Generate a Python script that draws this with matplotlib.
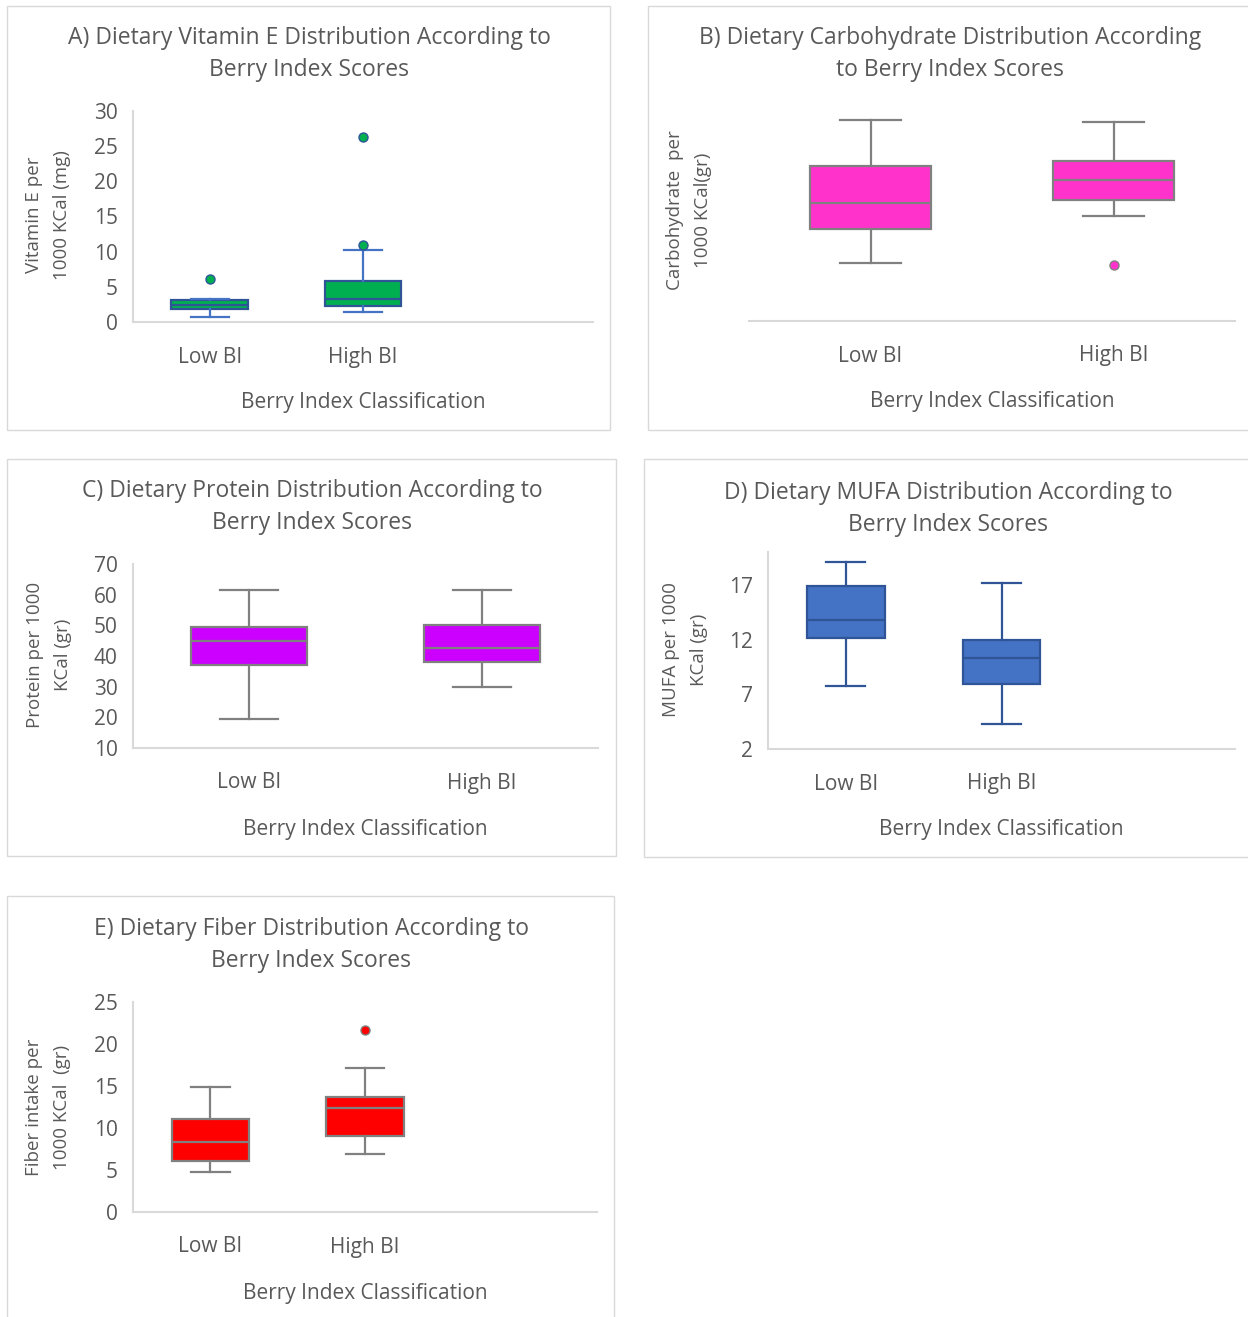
import matplotlib
matplotlib.use("Agg")
import matplotlib.pyplot as plt
from matplotlib.patches import Rectangle

# five-number summaries per group: [whisker low, Q1, median, Q3, whisker high]
groups = ["Low BI", "High BI"]

vite_low = [0.7, 1.8, 2.4, 3.1, 3.3]
vite_high = [1.4, 2.3, 3.2, 5.8, 10.3]
vite_out = [[6.1], [11.0, 26.3]]

carb_low = [90.0, 107.5, 121.0, 140.0, 163.8]
carb_high = [114.2, 122.5, 132.8, 142.6, 162.8]
carb_out = [[], [88.9]]

prot_low = [19.5, 37.2, 45.0, 49.6, 61.5]
prot_high = [30.0, 37.9, 42.6, 50.0, 61.5]
prot_out = [[], []]

mufa_low = [7.8, 12.1, 13.75, 16.85, 19.1]
mufa_high = [4.3, 7.9, 10.3, 12.0, 17.15]
mufa_out = [[], []]

fiber_low = [4.8, 6.1, 8.3, 11.1, 14.9]
fiber_high = [6.9, 9.0, 12.4, 13.7, 17.2]
fiber_out = [[], [21.7]]

W, H = 1248, 1317
TXT = "#595959"
AXC = "#D9D9D9"
FONT = "Open Sans"
FS = 15        # ticks, categories, axis title
FS_T = 16.5    # chart titles
FS_Y = 13.5    # rotated y labels

plt.rcParams["font.family"] = FONT

fig = plt.figure(figsize=(W / 100, H / 100), dpi=100)


def frame(x0, y0, x1, y1):
    fig.add_artist(Rectangle((x0 / W, 1 - y1 / H), (x1 - x0) / W, (y1 - y0) / H,
                             transform=fig.transFigure, fill=False,
                             edgecolor=AXC, lw=1.0))


def stats(summary, fliers, label):
    lo, q1, med, q3, hi = summary
    return dict(whislo=lo, q1=q1, med=med, q3=q3, whishi=hi,
                fliers=fliers, label=label)


def panel(box, low, high, out, ncat, ylim, yticks, fill, edge, whisk,
          title, ylabel, title_xy, ylabel_xy, cat_y, xlab_y, show_y=True):
    l, t, r, b = box
    ax = fig.add_axes([l / W, 1 - b / H, (r - l) / W, (b - t) / H])
    data = [stats(low, out[0], groups[0]), stats(high, out[1], groups[1])]
    ax.bxp(data, positions=[1, 2], widths=0.5, patch_artist=True,
           boxprops=dict(facecolor=fill, edgecolor=edge, lw=1.6),
           medianprops=dict(color=edge, lw=1.6),
           whiskerprops=dict(color=whisk, lw=1.6),
           capprops=dict(color=whisk, lw=1.6),
           flierprops=dict(marker="o", markerfacecolor=fill,
                           markeredgecolor=edge, markersize=6.5, lw=0))
    ax.set_xlim(0.5, ncat + 0.5)
    ax.set_ylim(*ylim)
    for s in ["top", "right"]:
        ax.spines[s].set_visible(False)
    ax.spines["bottom"].set_color(AXC)
    ax.spines["bottom"].set_linewidth(1.5)
    if show_y:
        ax.spines["left"].set_color(AXC)
        ax.spines["left"].set_linewidth(1.5)
        ax.set_yticks(yticks)
        ax.tick_params(axis="y", length=0, pad=11, labelsize=FS, labelcolor=TXT)
    else:
        ax.spines["left"].set_visible(False)
        ax.set_yticks([])
    ax.set_xticks([])
    ax.set_facecolor("none")

    # category labels and axis titles
    step = (r - l) / ncat
    for i, g in enumerate(groups):
        fig.text((l + step * (i + 0.5)) / W, 1 - cat_y / H, g, ha="center",
                 va="center", fontsize=FS, color=TXT)
    fig.text((l + r) / 2 / W, 1 - xlab_y / H, "Berry Index Classification",
             ha="center", va="center", fontsize=FS, color=TXT)
    fig.text(title_xy[0] / W, 1 - title_xy[1] / H, title, ha="center",
             va="center", fontsize=FS_T, color=TXT, linespacing=1.4)
    fig.text(ylabel_xy[0] / W, 1 - ylabel_xy[1] / H, ylabel, ha="center",
             va="center", rotation=90, fontsize=FS_Y, color=TXT,
             linespacing=1.7)
    return ax


frame(7, 6, 610, 430)
frame(648, 6, 1260, 430)
frame(7, 459, 616, 856)
frame(644, 459, 1260, 857)
frame(7, 896, 614, 1330)

panel((133, 111, 593, 322), vite_low, vite_high, vite_out, 3, (0, 30),
      range(0, 31, 5), "#00B050", "#2F5597", "#4472C4",
      "A) Dietary Vitamin E Distribution According to\nBerry Index Scores",
      "Vitamin E per\n1000 KCal (mg)", (309, 54), (48, 215), 357, 403)

panel((749, 108, 1235, 321), carb_low, carb_high, carb_out, 2, (60, 170),
      [], "#FF33CC", "#808080", "#808080",
      "B) Dietary Carbohydrate Distribution According\nto Berry Index Scores",
      "Carbohydrate  per\n1000 KCal(gr)", (950, 54), (689, 210), 356, 402,
      show_y=False)

panel((133, 564, 598, 748), prot_low, prot_high, prot_out, 2, (10, 70),
      range(10, 71, 10), "#CC00FF", "#808080", "#808080",
      "C) Dietary Protein Distribution According to\nBerry Index Scores",
      "Protein per 1000\nKCal (gr)", (312, 507), (49, 655), 783, 829)

panel((768, 552, 1235, 749), mufa_low, mufa_high, mufa_out, 3, (2, 20),
      [2, 7, 12, 17], "#4472C4", "#2F5597", "#2F5597",
      "D) Dietary MUFA Distribution According to\nBerry Index Scores",
      "MUFA per 1000\nKCal (gr)", (948, 509), (685, 650), 784, 830)

panel((133, 1002, 597, 1212), fiber_low, fiber_high, fiber_out, 3, (0, 25),
      range(0, 26, 5), "#FF0000", "#808080", "#808080",
      "E) Dietary Fiber Distribution According to\nBerry Index Scores",
      "Fiber intake per\n1000 KCal  (gr)", (311, 945), (48, 1107), 1247, 1293)

fig.savefig("out.png", dpi=100, facecolor="white")
